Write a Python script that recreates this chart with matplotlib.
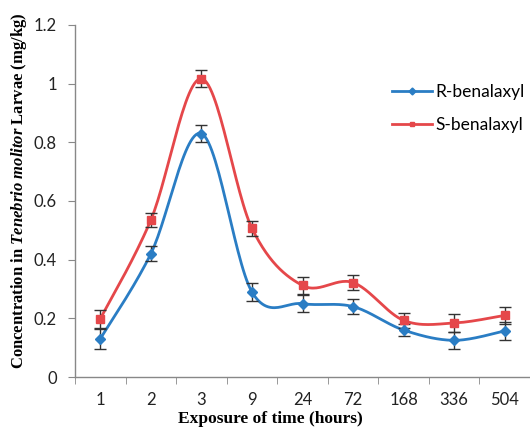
import numpy as np
import matplotlib
matplotlib.use("Agg")
import matplotlib.pyplot as plt

categories = ["1", "2", "3", "9", "24", "72", "168", "336", "504"]
r_vals = [0.13, 0.42, 0.83, 0.29, 0.25, 0.24, 0.16, 0.125, 0.157]
r_err = [0.035, 0.025, 0.03, 0.03, 0.03, 0.025, 0.02, 0.03, 0.03]
s_vals = [0.198, 0.535, 1.017, 0.507, 0.312, 0.322, 0.193, 0.184, 0.21]
s_err = [0.03, 0.025, 0.03, 0.025, 0.03, 0.025, 0.025, 0.03, 0.03]
yticks = [0, 0.2, 0.4, 0.6, 0.8, 1, 1.2]
ytick_labels = ["0", "0.2", "0.4", "0.6", "0.8", "1", "1.2"]

plt.rcParams['mathtext.fontset'] = 'custom'
plt.rcParams['mathtext.it'] = 'Liberation Serif:bold:italic'
plt.rcParams['mathtext.rm'] = 'Liberation Serif:bold'

BLUE = "#2A7DC4"
RED = "#E5474A"


def smooth(xs, ys, n=30):
    P = np.column_stack([xs, ys]).astype(float)
    out = []
    m = len(P)
    for i in range(m - 1):
        p0 = P[i - 1] if i > 0 else P[i]
        p1 = P[i]
        p2 = P[i + 1]
        p3 = P[i + 2] if i + 2 < m else P[i + 1]
        c1 = p1 + (p2 - p0) / 6.0
        c2 = p2 - (p3 - p1) / 6.0
        t = np.linspace(0, 1, n)[:, None]
        seg = ((1 - t) ** 3) * p1 + 3 * ((1 - t) ** 2) * t * c1 + 3 * (1 - t) * t ** 2 * c2 + t ** 3 * p2
        out.append(seg if i == 0 else seg[1:])
    out = np.vstack(out)
    return out[:, 0], out[:, 1]


fig = plt.figure(figsize=(5.3, 4.29), dpi=100)
ax = fig.add_axes([75 / 530, 52 / 429, 455 / 530, 352 / 429])

x = np.arange(len(categories))

for vals, err, col, mk, ms, lab in [
    (r_vals, r_err, BLUE, "D", 5, "R-benalaxyl"),
    (s_vals, s_err, RED, "s", 5.5, "S-benalaxyl"),
]:
    sx, sy = smooth(x, vals)
    ax.plot(sx, sy, color=col, lw=2.0, zorder=2)
    ax.errorbar(x, vals, yerr=err, fmt="none", ecolor="#333333", elinewidth=1.0,
                capsize=4, capthick=1.0, zorder=3)
    ax.plot(x, vals, linestyle="none", marker=mk, color=col, ms=ms, zorder=4)
    ax.plot([], [], color=col, lw=2.0, marker=mk, ms=3.5, label=lab)

ax.set_xlim(-0.5, -0.5 + 455 / 51.4)
ax.set_ylim(0, 1.2)
ax.set_xticks(x)
ax.set_xticklabels(categories, fontsize=12, family="Lato", color="#222222")
ax.set_xticks(np.arange(-0.5, 9, 1.0), minor=True)
ax.tick_params(axis="x", which="major", length=0, pad=11)
ax.tick_params(axis="x", which="minor", length=5, color="#888888", direction="out")
ax.set_yticks(yticks)
ax.set_yticklabels(ytick_labels, fontsize=12, family="Lato", color="#222222")
ax.tick_params(axis="y", length=5, color="#888888", direction="out", pad=8)

for s in ["top", "right"]:
    ax.spines[s].set_visible(False)
for s in ["left", "bottom"]:
    ax.spines[s].set_color("#888888")
    ax.spines[s].set_linewidth(1.0)

leg = ax.legend(loc="upper left", bbox_to_anchor=(392 / 530, 1 - 84 / 429),
                bbox_transform=fig.transFigure, frameon=False, borderpad=0,
                borderaxespad=0,
                prop={"family": "Lato", "size": 12.5}, handlelength=2.3,
                handletextpad=0.2, labelspacing=1.0)

fig.text(270 / 530, 1 - 419 / 429, "Exposure of time (hours)", ha="center", va="center",
         family="Liberation Serif", weight="bold", fontsize=12.5)
fig.text(19 / 530, 1 - 191 / 429,
         r"Concentration in $\mathit{Tenebrio\ molitor}$ Larvae (mg/kg)",
         rotation=90, ha="center", va="center",
         family="Liberation Serif", weight="bold", fontsize=12)

fig.savefig("out.png", dpi=100)
